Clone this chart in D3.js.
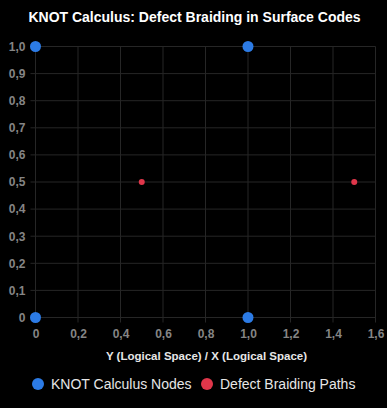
<!DOCTYPE html>
<html>
<head>
<meta charset="utf-8">
<script src="https://cdn.jsdelivr.net/npm/d3@7"></script>
<style>
  html, body { margin: 0; padding: 0; background: #000; }
  svg { display: block; font-family: Arial, "Liberation Sans", sans-serif; }
</style>
</head>
<body>
<script>
// chart data
var nodeX = [0, 1, 0, 1];
var nodeY = [0, 0, 1, 1];
var pathX = [0.5, 1.5];
var pathY = [0.5, 0.5];
var xTicks = [0, 0.2, 0.4, 0.6, 0.8, 1.0, 1.2, 1.4, 1.6];
var yTicks = [0, 0.1, 0.2, 0.3, 0.4, 0.5, 0.6, 0.7, 0.8, 0.9, 1.0];
var seriesNames = ["KNOT Calculus Nodes", "Defect Braiding Paths"];
var seriesColors = ["#2c7be5", "#e0364a"];

var width = 387, height = 408;
var margin = {left: 35.5, right: 11.5, top: 46.5, bottom: 90.5};

var svg = d3.select("body").append("svg").attr("width", width).attr("height", height);
svg.append("rect").attr("width", width).attr("height", height).attr("fill", "#000");

var x = d3.scaleLinear().domain([0, 1.6]).range([margin.left, width - margin.right]);
var y = d3.scaleLinear().domain([0, 1]).range([height - margin.bottom, margin.top]);

var fmt = function(d) { return d === 0 ? "0" : d3.format(".1f")(d).replace(".", ","); };

//Gridlines
svg.append("g").selectAll("line").data(xTicks).enter().append("line")
  .attr("x1", function(d) { return x(d); }).attr("x2", function(d) { return x(d); })
  .attr("y1", margin.top).attr("y2", height - margin.bottom + 5)
  .attr("stroke", "#262626").attr("stroke-width", 1);
svg.append("g").selectAll("line").data(yTicks).enter().append("line")
  .attr("x1", margin.left - 5).attr("x2", width - margin.right)
  .attr("y1", function(d) { return y(d); }).attr("y2", function(d) { return y(d); })
  .attr("stroke", "#262626").attr("stroke-width", 1);

//Axes, only labels kept
var xAxis = svg.append("g").attr("transform", "translate(0," + (height - margin.bottom) + ")")
  .call(d3.axisBottom(x).tickValues(xTicks).tickFormat(fmt).tickSize(0).tickPadding(12));
var yAxis = svg.append("g").attr("transform", "translate(" + margin.left + ",0)")
  .call(d3.axisLeft(y).tickValues(yTicks).tickFormat(fmt).tickSize(0).tickPadding(10));
[xAxis, yAxis].forEach(function(a) {
  a.select(".domain").remove();
  a.selectAll("text").attr("fill", "#858585").attr("font-size", 12).attr("font-weight", "bold")
    .attr("font-family", "Arial, 'Liberation Sans', sans-serif");
});

//Title + axis title
svg.append("text").attr("x", width / 2 + 1).attr("y", 22).attr("text-anchor", "middle")
  .attr("fill", "#fff").attr("font-size", 14).attr("font-weight", "bold")
  .text("KNOT Calculus: Defect Braiding in Surface Codes");
svg.append("text").attr("x", (margin.left + width - margin.right) / 2 + 1).attr("y", 360).attr("text-anchor", "middle")
  .attr("fill", "#e6e6e6").attr("font-size", 11.5).attr("font-weight", "bold")
  .text("Y (Logical Space) / X (Logical Space)");

//Points
var nodes = nodeX.map(function(d, i) { return [d, nodeY[i]]; });
var paths = pathX.map(function(d, i) { return [d, pathY[i]]; });
svg.append("g").selectAll("circle").data(nodes).enter().append("circle")
  .attr("cx", function(d) { return x(d[0]); }).attr("cy", function(d) { return y(d[1]); })
  .attr("r", 5.5).attr("fill", seriesColors[0]);
svg.append("g").selectAll("circle").data(paths).enter().append("circle")
  .attr("cx", function(d) { return x(d[0]); }).attr("cy", function(d) { return y(d[1]); })
  .attr("r", 3).attr("fill", seriesColors[1]);

//Legend
var legendX = [38, 207];
var legend = svg.append("g").selectAll("g").data(seriesNames).enter().append("g")
  .attr("transform", function(d, i) { return "translate(" + legendX[i] + ",384)"; });
legend.append("circle").attr("r", 6).attr("fill", function(d, i) { return seriesColors[i]; });
legend.append("text").attr("x", 13).attr("y", 5).attr("fill", "#e6e6e6").attr("font-size", 14)
  .text(function(d) { return d; });
</script>
</body>
</html>
